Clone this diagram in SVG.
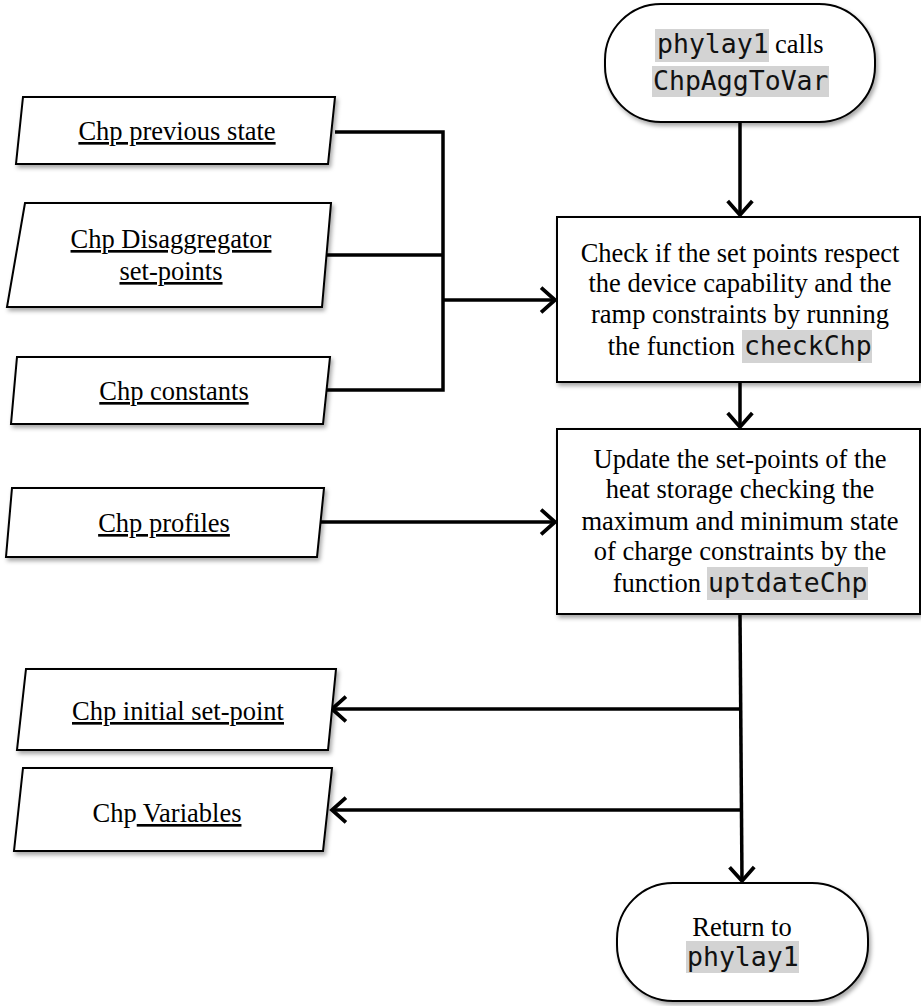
<svg xmlns="http://www.w3.org/2000/svg" width="921" height="1006" viewBox="0 0 921 1006">
<style>
.shape{fill:#fff;stroke:#000;stroke-width:2;filter:url(#sh)}
.t{font-family:"Liberation Serif","Times New Roman",serif;font-size:26.5px;fill:#000}
.c{text-anchor:middle}
.u{text-decoration:underline}
.m{font-family:"DejaVu Sans Mono","Liberation Mono",monospace;font-size:26.5px;fill:#111}
.hl{fill:#d3d3d3}
.ln{fill:none;stroke:#000;stroke-width:3.5}
.ar{fill:none;stroke:#000;stroke-width:3.5;marker-end:url(#ah)}
</style>
<defs>
<filter id="sh" x="-10%" y="-10%" width="120%" height="130%">
<feDropShadow dx="2" dy="3" stdDeviation="2" flood-color="#000" flood-opacity="0.35"/>
</filter>
<marker id="ah" markerUnits="userSpaceOnUse" markerWidth="30" markerHeight="30" viewBox="-16 -14 20 28" refX="0" refY="0" orient="auto">
<path d="M-13,-11.5 L0,0 L-13,11.5" fill="none" stroke="#000" stroke-width="3.5" stroke-linejoin="miter"/>
</marker>
</defs>
<g id="connectors">
<path class="ar" d="M740,122 V215"/>
<path class="ln" d="M335,132 H443 V390 H325"/>
<path class="ln" d="M327,255 H443"/>
<path class="ar" d="M443,300 H555"/>
<path class="ar" d="M740,382 V427"/>
<path class="ar" d="M321,522 H555"/>
<path class="ar" d="M740,614 L742,881"/>
<path class="ar" d="M740,709 H332"/>
<path class="ar" d="M741,810 H332"/>
</g>
<g id="start">
<rect class="shape" x="605" y="4" width="270" height="118" rx="56"/>
<rect class="hl" x="655" y="29" width="114" height="33"/>
<text class="m" x="657" y="53">phylay1</text>
<text class="t" x="775" y="53">calls</text>
<rect class="hl" x="652" y="66" width="177" height="31"/>
<text class="m" x="653" y="90">ChpAggToVar</text>
</g>
<g id="prev">
<polygon class="shape" points="23,97 335,97 328,164 16,164"/>
<text class="t c u" x="177" y="140">Chp previous state</text>
</g>
<g id="disagg">
<polygon class="shape" points="25,203 331,203 322,307 7,307"/>
<text class="t c u" x="171" y="248">Chp Disaggregator</text>
<text class="t c u" x="171" y="280">set-points</text>
</g>
<g id="constants">
<polygon class="shape" points="17,357 330,357 323,424 11,424"/>
<text class="t c u" x="174" y="400">Chp constants</text>
</g>
<g id="profiles">
<polygon class="shape" points="12,488 324,488 317,557 6,557"/>
<text class="t c u" x="164" y="532">Chp profiles</text>
</g>
<g id="check">
<rect class="shape" x="557" y="217" width="363" height="165"/>
<text class="t c" x="740" y="262">Check if the set points respect</text>
<text class="t c" x="740" y="292">the device capability and the</text>
<text class="t c" x="740" y="323">ramp constraints by running</text>
<text class="t" x="735" y="355" text-anchor="end">the function</text>
<rect class="hl" x="742" y="330" width="130" height="33"/>
<text class="m" x="744" y="355">checkChp</text>
</g>
<g id="update">
<rect class="shape" x="557" y="429" width="363" height="185"/>
<text class="t c" x="740" y="468">Update the set-points of the</text>
<text class="t c" x="740" y="498">heat storage checking the</text>
<text class="t c" x="740" y="530">maximum and minimum state</text>
<text class="t c" x="740" y="560">of charge constraints by the</text>
<text class="t" x="701" y="592" text-anchor="end">function</text>
<rect class="hl" x="707" y="567" width="161" height="33"/>
<text class="m" x="708" y="592">uptdateChp</text>
</g>
<g id="initial">
<polygon class="shape" points="26,669 336,669 328,750 17,750"/>
<text class="t c u" x="178" y="720">Chp initial set-point</text>
</g>
<g id="variables">
<polygon class="shape" points="23,768 332,768 323,851 14,851"/>
<text class="t c" x="167" y="822">Chp<tspan class="u"> Variables</tspan></text>
</g>
<g id="end">
<rect class="shape" x="617" y="883" width="251" height="118" rx="56"/>
<text class="t c" x="742" y="936">Return to</text>
<rect class="hl" x="686" y="941" width="113" height="32"/>
<text class="m" x="687" y="966">phylay1</text>
</g>
</svg>
